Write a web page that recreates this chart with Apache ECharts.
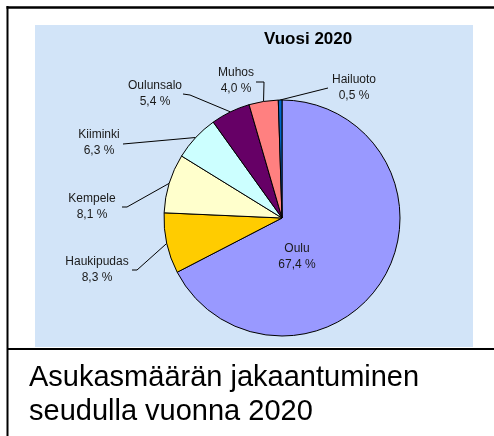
<!DOCTYPE html>
<html><head><meta charset="utf-8">
<script src="https://cdn.jsdelivr.net/npm/echarts@6/dist/echarts.min.js"></script>
<style>html,body{margin:0;padding:0;background:#fff}#c{width:494px;height:436px}</style>
</head><body><div id="c"></div>
<script>
const categories = ['Oulu', 'Haukipudas', 'Kempele', 'Kiiminki', 'Oulunsalo', 'Muhos', 'Hailuoto'];
const shares = [67.4, 8.3, 8.1, 6.3, 5.4, 4.0, 0.5];
const sliceColors = ['#9999ff', '#ffcc00', '#ffffcc', '#ccffff', '#660066', '#ff8080', '#0066cc'];
const chartTitle = 'Vuosi 2020';
const captionLines = ['Asukasmäärän jakaantuminen', 'seudulla vuonna 2020'];

// label block centres and leader-line bends (layout only)
const labelPos = [[297, 257], [97, 270], [92, 207], [99, 143], [155, 94], [236, 81], [354, 88]];
const bends = [null, [[137, 270], [132, 270]], [[127, 207], [122, 207]], [[123, 144], [123, 144]],
  [[190, 95], [183, 94]], [[264, 82], [256, 82]], [[328, 88], [328, 88]]];

const fmt = v => v.toFixed(1).replace('.', ',') + ' %';

const chart = echarts.init(document.getElementById('c'), null, { renderer: 'canvas' });
const font = 'Liberation Sans, Arial, sans-serif';

chart.setOption({
  animation: false,
  title: {
    text: chartTitle, left: 264, top: 31, padding: 0,
    textStyle: { fontFamily: font, fontSize: 17, fontWeight: 'bold', color: '#000' }
  },
  graphic: [
    { type: 'rect', shape: { x: 35, y: 25, width: 438, height: 322 }, style: { fill: '#d2e4f8' }, z: -10 },
    { type: 'line', shape: { x1: 7.5, y1: 6, x2: 7.5, y2: 436 }, style: { stroke: '#000', lineWidth: 2 } },
    { type: 'line', shape: { x1: 6.5, y1: 7.5, x2: 494, y2: 7.5 }, style: { stroke: '#000', lineWidth: 2.5 } },
    { type: 'line', shape: { x1: 7, y1: 349, x2: 494, y2: 349 }, style: { stroke: '#000', lineWidth: 2 } },
    { type: 'text', x: 29, y: 378, style: { text: captionLines[0], font: '29px ' + font, fill: '#000', textVerticalAlign: 'middle' } },
    { type: 'text', x: 29, y: 412, style: { text: captionLines[1], font: '29px ' + font, fill: '#000', textVerticalAlign: 'middle' } }
  ],
  series: [{
    type: 'pie',
    center: [282, 218],
    radius: 118,
    startAngle: 90,
    clockwise: true,
    avoidLabelOverlap: false,
    itemStyle: { borderColor: '#000', borderWidth: 1 },
    emphasis: { disabled: true },
    label: {
      show: true,
      position: 'outside',
      formatter: p => p.name + '\n' + fmt(p.value),
      fontFamily: font, fontSize: 12, lineHeight: 16, color: '#1a1a1a'
    },
    labelLine: { show: true, lineStyle: { color: '#000', width: 1 } },
    labelLayout: function (p) {
      const i = p.dataIndex;
      const res = { x: labelPos[i][0], y: labelPos[i][1], align: 'center', verticalAlign: 'middle' };
      if (bends[i] && p.labelLinePoints) {
        const s = p.labelLinePoints[0];
        res.labelLinePoints = [[s[0], s[1]], bends[i][0], bends[i][1]];
      }
      return res;
    },
    data: categories.map((c, i) => ({
      name: c, value: shares[i],
      itemStyle: { color: sliceColors[i] },
      label: i === 0 ? { position: 'inside' } : undefined,
      labelLine: i === 0 ? { show: false } : undefined
    }))
  }]
});
</script></body></html>
